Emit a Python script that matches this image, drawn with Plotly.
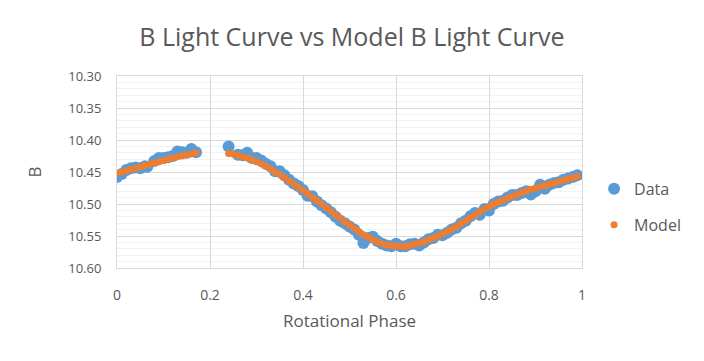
import plotly.graph_objects as go

# Observed data
data_phase = [0.00, 0.01, 0.02, 0.03, 0.04, 0.05, 0.06, 0.065, 0.08, 0.09, 0.10, 0.11, 0.12, 0.13, 0.14, 0.15, 0.16, 0.17,
              0.24, 0.26, 0.27, 0.28, 0.29, 0.30, 0.31, 0.32, 0.33, 0.34, 0.35, 0.36, 0.37, 0.38, 0.39, 0.40,
              0.41, 0.42, 0.43, 0.44, 0.45, 0.46, 0.47, 0.48, 0.49, 0.50, 0.51, 0.52, 0.53, 0.54, 0.55, 0.56,
              0.57, 0.58, 0.59, 0.60, 0.61, 0.62, 0.63, 0.64, 0.65, 0.66, 0.67, 0.68, 0.69, 0.70, 0.71, 0.72,
              0.73, 0.74, 0.75, 0.76, 0.77, 0.78, 0.79, 0.80, 0.81, 0.82, 0.83, 0.84, 0.85, 0.86, 0.87, 0.88,
              0.89, 0.90, 0.91, 0.92, 0.93, 0.94, 0.95, 0.96, 0.97, 0.98, 0.99]
data_b = [10.458, 10.453, 10.447, 10.444, 10.443, 10.444, 10.441, 10.442, 10.433, 10.428, 10.428, 10.427, 10.425, 10.418, 10.419, 10.420, 10.414, 10.419,
          10.410, 10.423, 10.424, 10.420, 10.428, 10.428, 10.432, 10.437, 10.441, 10.449, 10.449, 10.455, 10.462, 10.468, 10.472, 10.478,
          10.487, 10.488, 10.496, 10.502, 10.507, 10.513, 10.520, 10.526, 10.530, 10.535, 10.540, 10.548, 10.561, 10.553, 10.551, 10.558,
          10.562, 10.565, 10.566, 10.562, 10.566, 10.566, 10.563, 10.562, 10.565, 10.560, 10.555, 10.553, 10.548, 10.549, 10.545, 10.540,
          10.537, 10.530, 10.526, 10.519, 10.514, 10.517, 10.508, 10.510, 10.500, 10.496, 10.495, 10.490, 10.486, 10.486, 10.483, 10.480,
          10.485, 10.480, 10.470, 10.476, 10.470, 10.467, 10.466, 10.462, 10.460, 10.458, 10.455]

# Model
model_phase = [0.00, 0.01, 0.02, 0.03, 0.04, 0.05, 0.06, 0.07, 0.08, 0.09, 0.10, 0.11, 0.12, 0.13, 0.14, 0.15, 0.16, 0.17,
               0.24, 0.25, 0.26, 0.27, 0.28, 0.29, 0.30, 0.31, 0.32, 0.33, 0.34, 0.35, 0.36, 0.37, 0.38, 0.39, 0.40,
               0.41, 0.42, 0.43, 0.44, 0.45, 0.46, 0.47, 0.48, 0.49, 0.50, 0.51, 0.52, 0.53, 0.54, 0.55, 0.56,
               0.57, 0.58, 0.59, 0.60, 0.61, 0.62, 0.63, 0.64, 0.65, 0.66, 0.67, 0.68, 0.69, 0.70, 0.71, 0.72,
               0.73, 0.74, 0.75, 0.76, 0.77, 0.78, 0.79, 0.80, 0.81, 0.82, 0.83, 0.84, 0.85, 0.86, 0.87, 0.88,
               0.89, 0.90, 0.91, 0.92, 0.93, 0.94, 0.95, 0.96, 0.97, 0.98, 0.99]
model_b = [10.452, 10.450, 10.448, 10.446, 10.444, 10.442, 10.440, 10.438, 10.436, 10.434, 10.432, 10.430, 10.428, 10.426, 10.425, 10.423, 10.422, 10.420,
           10.421, 10.422, 10.424, 10.426, 10.428, 10.431, 10.434, 10.437, 10.441, 10.445, 10.450, 10.454, 10.459, 10.464, 10.469, 10.474, 10.479,
           10.484, 10.490, 10.495, 10.500, 10.506, 10.511, 10.517, 10.522, 10.528, 10.533, 10.538, 10.543, 10.548, 10.552, 10.556, 10.559,
           10.562, 10.564, 10.565, 10.566, 10.566, 10.566, 10.565, 10.563, 10.561, 10.559, 10.556, 10.553, 10.550, 10.547, 10.543, 10.539,
           10.535, 10.530, 10.526, 10.521, 10.517, 10.512, 10.508, 10.504, 10.500, 10.497, 10.494, 10.491, 10.488, 10.485, 10.482, 10.480,
           10.477, 10.475, 10.473, 10.471, 10.469, 10.467, 10.465, 10.463, 10.461, 10.459, 10.457]

x_ticks = [0, 0.2, 0.4, 0.6, 0.8, 1]
x_tick_labels = ["0", "0.2", "0.4", "0.6", "0.8", "1"]
y_ticks = [10.30, 10.35, 10.40, 10.45, 10.50, 10.55, 10.60]
y_tick_labels = ["10.30", "10.35", "10.40", "10.45", "10.50", "10.55", "10.60"]

FONT = "Open Sans"
GREY = "#595959"

fig = go.Figure()
fig.add_trace(go.Scatter(x=data_phase, y=data_b, mode="markers", name="Data",
                         legendgroup="a",
                         marker=dict(color="#5B9BD5", size=12, line=dict(width=0))))
fig.add_trace(go.Scatter(x=model_phase, y=model_b, mode="markers", name="Model",
                         legendgroup="b",
                         marker=dict(color="#ED7D31", size=7, line=dict(width=0))))

fig.update_layout(
    width=704, height=361,
    margin=dict(l=109, r=130, t=68, b=101),
    paper_bgcolor="white", plot_bgcolor="white",
    font=dict(family=FONT, color=GREY, size=14),
    title=dict(text="B Light Curve vs Model B Light Curve", x=0.4886, xanchor="center",
               y=0.92, yanchor="middle", yref="container",
               font=dict(family=FONT, size=25, color=GREY)),
    legend=dict(x=1.026, xanchor="left", y=0.318, yanchor="middle",
                font=dict(family=FONT, size=16, color=GREY),
                traceorder="grouped", tracegroupgap=12, itemsizing="trace"),
    showlegend=True,
)
fig.update_xaxes(range=[0, 1], tickvals=x_ticks, ticktext=x_tick_labels,
                 showgrid=True, gridcolor="#d9d9d9", gridwidth=1,
                 showline=True, linecolor="#d9d9d9", mirror=True,
                 zeroline=False, ticks="", ticklabelstandoff=14,
                 tickfont=dict(size=14, color=GREY),
                 title=dict(text="Rotational Phase", font=dict(size=17, color=GREY), standoff=12))
fig.update_yaxes(range=[10.60, 10.30], tickvals=y_ticks, ticktext=y_tick_labels,
                 showgrid=True, gridcolor="#d9d9d9", gridwidth=1,
                 minor=dict(dtick=0.01, tick0=10.30, showgrid=True, gridcolor="#f2f2f2", gridwidth=1, ticks=""),
                 showline=True, linecolor="#d9d9d9", mirror=True,
                 zeroline=False, ticks="", ticklabelstandoff=12,
                 tickfont=dict(size=13, color=GREY),
                 title=dict(text="B", font=dict(size=17, color=GREY), standoff=22))

fig.write_html("out.html")
